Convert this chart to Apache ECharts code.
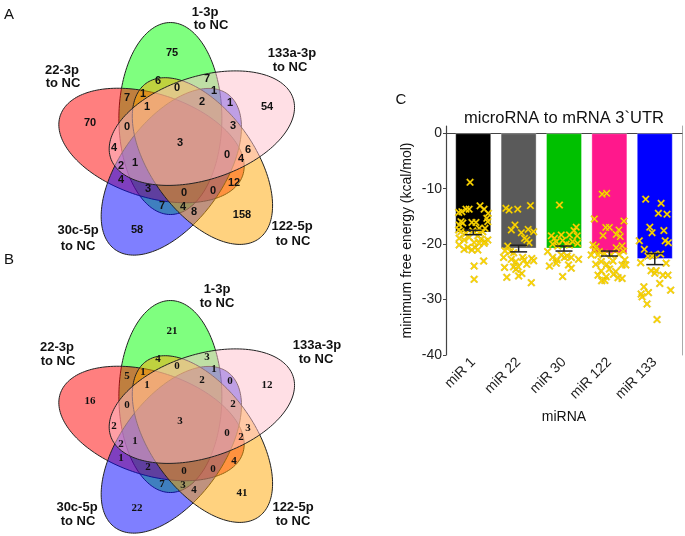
<!DOCTYPE html>
<html><head><meta charset="utf-8">
<script src="https://cdn.jsdelivr.net/npm/echarts@6/dist/echarts.min.js"></script>
<style>html,body{margin:0;padding:0;background:#fff}#c{width:685px;height:536px}</style>
</head><body><div id="c"></div>
<script>
// ---------- Panel C data ----------
const categories = ['miR 1', 'miR 22', 'miR 30', 'miR 122', 'miR 133'];
const barMeans = [-17.9, -20.8, -20.8, -21.7, -22.7];
const barSE = [0.4, 0.6, 0.45, 0.45, 1.0];
const barColors = ['#000000', '#5a5a5a', '#00c000', '#ff188c', '#0000ff'];
const yTickValues = [-40, -30, -20, -10, 0];

const mir1Vals = [-8.85,-14.3,-14.15,-13.7,-13.7,-13.1,-13.7,-14.45,-15.35,-15.95,-15.95,-16.55,-16.2,-16.1,-16.1,-17.15,-17.15,-17.45,-17.75,-18.05,-17.6,-17.9,-17.75,-18.95,-19.25,-18.8,-18.5,-19.1,-19.55,-19.25,-20.15,-20.95,-20.6,-21.05,-20.6,-21.05,-19.85,-19.85,-19.7,-23.05,-23.95,-26.35];
const mir1Jit = [-0.07,-0.32,-0.25,-0.16,-0.09,0.15,0.24,0.33,0.30,0.32,-0.27,-0.31,-0.23,-0.03,0.06,0.13,0.26,-0.32,-0.27,-0.16,-0.01,0.13,0.21,-0.31,-0.20,-0.09,0.10,0.17,0.26,0.32,-0.31,-0.20,-0.12,-0.03,0.04,0.10,0.13,0.24,0.02,0.23,0.02,0.02];
const mir22Vals = [-13.55,-13.85,-13.7,-13.05,-16.55,-17.45,-17.95,-17.35,-17.75,-18.95,-19.25,-19.75,-20.35,-21.2,-21.35,-21.55,-22.4,-22.75,-23.15,-22.4,-22.9,-22.6,-23,-24.2,-24.1,-24.55,-23.65,-25.3,-26,-25.75,-26.95,-24.1];
const mir22Jit = [-0.28,-0.21,-0.02,0.26,-0.08,-0.16,0.06,0.21,0.33,0.13,0.18,0.23,-0.24,-0.30,-0.18,-0.11,-0.33,-0.16,-0.06,0.09,0.12,0.29,0.33,-0.31,-0.11,-0.06,0.18,0.07,-0.26,0.00,0.28,-0.01];
const mir30Vals = [-12.95,-16.95,-17.55,-18.5,-18.95,-18.35,-18.35,-18.5,-19.55,-19.35,-20,-19.55,-19.85,-20,-21.35,-22.4,-22.85,-21.95,-22.4,-22.15,-22.4,-23.95,-23.45,-23.75,-24.35,-22.75,-25.85,-20.35,-20.15];
const mir30Jit = [-0.10,0.27,0.22,-0.28,-0.21,-0.06,0.12,0.29,-0.17,-0.03,0.05,0.19,0.30,-0.25,-0.36,-0.25,-0.15,-0.06,0.01,0.07,0.16,-0.32,-0.17,0.10,0.16,0.32,-0.03,-0.14,0.12];
const mir122Vals = [-11.0,-10.85,-15.45,-17.0,-17.0,-17.45,-18.45,-18.25,-18.65,-15.85,-20.45,-21.05,-21.35,-21.95,-20.65,-20.3,-21.25,-20.15,-21.65,-21.95,-23.65,-23.15,-23.65,-23.05,-22.85,-24.85,-24.5,-24.95,-23.75,-25.6,-25.9,-25.45,-26.05,-23.75,-21.85,-21.95,-26.6,-26.55,-26.2];
const mir122Jit = [-0.16,-0.06,-0.33,-0.08,0.00,0.21,-0.14,0.15,0.24,0.32,-0.29,-0.33,-0.22,-0.25,0.15,0.28,0.31,-0.36,-0.11,0.04,-0.30,-0.18,-0.06,0.08,0.34,-0.18,0.00,0.14,0.28,-0.25,-0.07,0.09,0.19,0.36,0.21,-0.40,-0.17,-0.10,0.28];
const mir133Vals = [-11.9,-12.65,-14.45,-14.6,-16.95,-17.95,-17.55,-19.4,-19.4,-19.75,-20.95,-22.15,-21.8,-23.35,-21.95,-23.45,-24.8,-25.25,-24.8,-25.6,-25.6,-27.1,-27.7,-28.3,-28.75,-29,-29.5,-30.8,-33.6,-22.15];
const mir133Jit = [-0.20,0.14,0.08,0.27,-0.11,-0.06,0.20,-0.34,0.23,0.30,-0.23,-0.15,0.13,-0.31,-0.02,0.25,-0.08,0.00,0.03,0.18,0.29,0.11,-0.24,0.35,-0.14,-0.30,-0.28,-0.17,0.05,-0.06];

// ---------- Venn data ----------
const setNames = ['1-3p', '133a-3p', '122-5p', '30c-5p', '22-3p'];
const setSuffix = 'to NC';
const vennCountsA = [75,70,54,158,58,6,7,7,1,0,1,2,1,1,0,3,4,3,0,6,4,2,1,4,12,3,0,0,7,4,8];
const vennCountsB = [21,16,12,41,22,4,3,5,1,0,1,2,0,1,0,2,2,3,0,3,2,2,1,1,4,2,0,0,7,3,4];

// ---------- layout (positions, sizes, styles) ----------
const regionOffsets = [[-8,-90],[-90,-20],[87,-36],[62,72],[-43,87],[-22,-62],[27,-64],[-53,-45],[-37,-49],[-3,-55],[34,-52],[22,-41],[50,-40],[-33,-36],[-53,-16],[53,-17],[-66,5],[0,0],[47,12],[68,7],[61,16],[-59,23],[-45,20],[-59,37],[54,40],[-32,46],[4,50],[33,48],[-18,63],[3,64],[14,69]];
const setFill = ['rgba(0,255,0,0.5)', 'rgba(255,192,203,0.5)', 'rgba(255,165,0,0.5)', 'rgba(0,0,255,0.5)', 'rgba(255,0,0,0.5)'];
const drawOrder = [0, 4, 3, 2, 1];
const labelPosA = [[[205,12],[211,25]],[[292,53],[290,67]],[[292,226],[293,241]],[[78,230],[78,246]],[[62,70],[63,83]]];
const labelPosB = [[[217,289],[217,303]],[[317,345],[316,359]],[[293,507],[293,521]],[[77,507],[78,521]],[[57,347],[58,361]]];
const RX = 51.5, RY = 96, DIST = 28, BASE_ANG = -109;

function txt(s, x, y, font, z) {
  return { type: 'text', z: 10, z2: z || 100, style: { text: String(s), x: x, y: y, font: font, fill: '#111',
    align: 'center', verticalAlign: 'middle', textAlign: 'center', textVerticalAlign: 'middle' } };
}

function venn(ox, oy, counts, labelPos, countFont) {
  const els = [];
  const cx0 = ox - 0.5, cy0 = oy + 2;
  drawOrder.forEach((k, idx) => {
    const a = (BASE_ANG + 72 * k) * Math.PI / 180;
    const r = 72 * k * Math.PI / 180;
    const ecx = cx0 + DIST * Math.cos(a), ecy = cy0 + DIST * Math.sin(a);
    const pts = [];
    for (let i = 0; i < 180; i++) {
      const t = i / 180 * Math.PI * 2;
      const lx = RX * Math.cos(t), ly = RY * Math.sin(t);
      pts.push([ecx + lx * Math.cos(r) - ly * Math.sin(r), ecy + lx * Math.sin(r) + ly * Math.cos(r)]);
    }
    els.push({ type: 'polygon', z: 10, z2: idx + 1, shape: { points: pts },
      style: { fill: setFill[k], stroke: '#222', lineWidth: 1 } });
  });
  counts.forEach((c, i) => {
    els.push(txt(c, ox + regionOffsets[i][0], oy + regionOffsets[i][1], countFont));
  });
  setNames.forEach((n, k) => {
    els.push(txt(n, labelPos[k][0][0], labelPos[k][0][1], 'bold 13px "Liberation Sans"'));
    els.push(txt(setSuffix, labelPos[k][1][0], labelPos[k][1][1], 'bold 13px "Liberation Sans"'));
  });
  return els;
}

const graphics = []
  .concat(venn(180, 143, vennCountsA, labelPosA, 'bold 11px "Liberation Sans"'))
  .concat(venn(180, 421, vennCountsB, labelPosB, 'bold 11px "Liberation Serif"'))
  .concat([
    txt('A', 9, 15, '15px "Liberation Sans"'),
    txt('B', 9, 260, '15px "Liberation Sans"'),
    txt('C', 401, 100, '15px "Liberation Sans"'),
    txt('microRNA to mRNA 3`UTR', 564, 118, '16.5px "Liberation Sans"')
  ]);

const allVals = [mir1Vals, mir22Vals, mir30Vals, mir122Vals, mir133Vals];
const allJit = [mir1Jit, mir22Jit, mir30Jit, mir122Jit, mir133Jit];
const scatterData = [];
allVals.forEach((vals, g) => vals.forEach((v, i) => scatterData.push([g + 1 + allJit[g][i], v])));

const chart = echarts.init(document.getElementById('c'), null, { renderer: 'canvas' });
chart.setOption({
  animation: false,
  backgroundColor: '#fff',
  graphic: { elements: graphics },
  grid: { left: 446, right: 3, top: 126, bottom: 181, containLabel: false },
  xAxis: {
    type: 'value', min: 0.4, max: 5.6,
    name: 'miRNA', nameLocation: 'middle', nameGap: 55,
    nameTextStyle: { fontSize: 14, color: '#111', fontFamily: 'Liberation Sans' },
    axisLine: { show: true, lineStyle: { color: '#444', width: 1.2 } },
    axisTick: { show: true, length: 3, customValues: [1, 2, 3, 4, 5], lineStyle: { color: '#444' } },
    axisLabel: { customValues: [1, 2, 3, 4, 5], rotate: 45, margin: 5, fontSize: 14, color: '#222', fontFamily: 'Liberation Sans',
      formatter: v => categories[Math.round(v) - 1] || '' },
    splitLine: { show: false }
  },
  yAxis: [{
    type: 'value', min: -40, max: 1.3, interval: 10,
    name: 'minimum free energy (kcal/mol)', nameLocation: 'middle', nameGap: 32, nameRotate: 90,
    nameTextStyle: { fontSize: 14, color: '#111', fontFamily: 'Liberation Sans' },
    axisLine: { show: true, lineStyle: { color: '#444', width: 1.2 } },
    axisTick: { show: true, length: 3, customValues: yTickValues, lineStyle: { color: '#444' } },
    axisLabel: { customValues: yTickValues, margin: 4, fontSize: 14, color: '#222', fontFamily: 'Liberation Sans',
      formatter: v => (yTickValues.indexOf(v) >= 0 ? String(v) : '') },
    splitLine: { show: false }
  }, {
    type: 'value', min: -40, max: 1.3, position: 'right',
    axisLine: { show: true, lineStyle: { color: '#aaa', width: 1 } },
    axisTick: { show: false }, axisLabel: { show: false }, splitLine: { show: false }
  }],
  series: [
    {
      type: 'bar', barWidth: 36, z: 2,
      data: categories.map((c, i) => ({ value: [i + 1, barMeans[i]], itemStyle: { color: barColors[i], borderColor: 'rgba(255,255,255,0.35)', borderWidth: 1 } }))
    },
    {
      type: 'scatter', z: 3, symbolSize: 7.5,
      symbol: 'path://M0,1.5L1.5,0L5,3.5L8.5,0L10,1.5L6.5,5L10,8.5L8.5,10L5,6.5L1.5,10L0,8.5L3.5,5Z',
      itemStyle: { color: '#ffd700', borderColor: 'rgba(190,160,0,0.7)', borderWidth: 0.5, opacity: 1 },
      data: scatterData
    },
    {
      type: 'custom', z: 4,
      data: categories.map((c, i) => [i + 1, barMeans[i] - barSE[i], barMeans[i] + barSE[i]]),
      renderItem: function (params, api) {
        const p1 = api.coord([api.value(0), api.value(1)]);
        const p2 = api.coord([api.value(0), api.value(2)]);
        const w = 8.5, st = { stroke: '#222', lineWidth: 1.5 };
        return { type: 'group', children: [
          { type: 'line', shape: { x1: p1[0], y1: p1[1], x2: p2[0], y2: p2[1] }, style: st },
          { type: 'line', shape: { x1: p1[0] - w, y1: p1[1], x2: p1[0] + w, y2: p1[1] }, style: st },
          { type: 'line', shape: { x1: p2[0] - w, y1: p2[1], x2: p2[0] + w, y2: p2[1] }, style: st }
        ] };
      }
    }
  ]
});
</script>
</body></html>
